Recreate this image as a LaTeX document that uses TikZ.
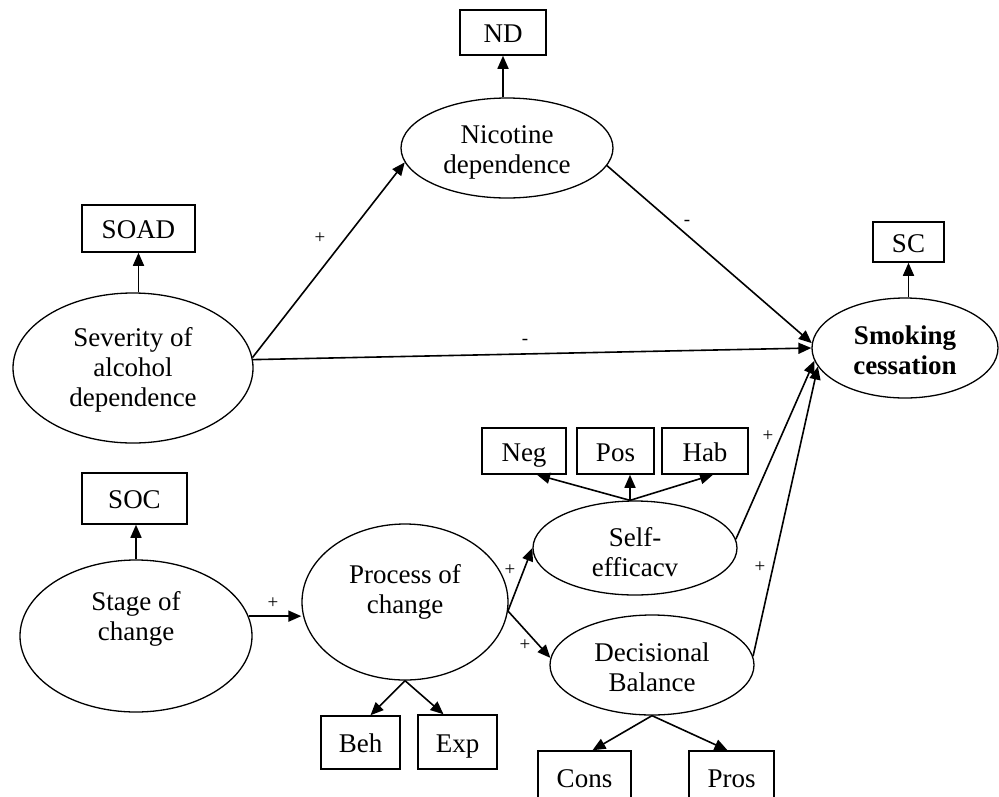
\documentclass[tikz,border=0pt]{standalone}
\usepackage{fontspec}
\setmainfont{Liberation Serif}
\usetikzlibrary{shapes.geometric,arrows.meta}
\begin{document}
\begin{tikzpicture}[x=1pt,y=-1pt,
  every node/.style={font=\fontsize{27}{30}\selectfont},
  latent/.style 2 args={draw, ellipse, line width=1.3pt, inner sep=0pt,
    minimum width=#1, minimum height=#2},
  indicator/.style 2 args={draw, rectangle, line width=1.5pt, inner sep=0pt,
    text height=20pt, text depth=0pt,
    minimum width=#1, minimum height=#2},
  caption/.style={align=center, inner sep=0pt},
  sign/.style={font=\fontsize{19}{19}\selectfont, inner sep=0pt},
  link/.style={line width=1.6pt, -{Triangle[length=13pt,width=11pt]}},
]
\useasboundingbox (0,0) rectangle (999,796);
\clip (0,0) rectangle (999,796);

% latent constructs
\node[latent={212pt}{100pt}] (nic)   at (507,148) {};
\node[latent={240pt}{150pt}] (sev)   at (133,368) {};
\node[latent={186pt}{100pt}] (smk)   at (905,348) {};
\node[latent={204pt}{94pt}]  (self)  at (635,548) {};
\node[latent={206pt}{156pt}] (proc)  at (405,602) {};
\node[latent={232pt}{152pt}] (stage) at (136,636) {};
\node[latent={204pt}{100pt}] (dec)   at (652,665) {};

\node[caption] (nicT)   at (507,152) {Nicotine\\dependence};
\node[caption] (sevT)   at (133,370) {Severity of\\alcohol\\dependence};
\node[caption, font=\fontsize{27}{30}\selectfont\bfseries] (smkT) at (905,350) {Smoking\\cessation};
\node[caption] (selfT)  at (635,552) {Self-\\efficacv};
\node[caption] (procT)  at (405,592) {Process of\\change};
\node[caption] (stageT) at (136,619) {Stage of\\change};
\node[caption] (decT)   at (652,667) {Decisional\\Balance};

% observed indicators
\node[indicator={86pt}{45pt}]  (ND)   at (503,32.5)  {ND};
\node[indicator={113pt}{47pt}] (SOAD) at (138.5,228.5) {SOAD};
\node[indicator={71pt}{40pt}]  (SC)   at (908.5,242) {SC};
\node[indicator={84pt}{46pt}]  (Neg)  at (524,451)   {Neg};
\node[indicator={77pt}{46pt}]  (Pos)  at (615.5,451) {Pos};
\node[indicator={86pt}{46pt}]  (Hab)  at (705,451)   {Hab};
\node[indicator={105pt}{51pt}] (SOC)  at (134.5,498.5) {SOC};
\node[indicator={79pt}{53pt}]  (Beh)  at (360.5,742.5) {Beh};
\node[indicator={79pt}{54pt}]  (Exp)  at (457.5,742) {Exp};
\node[indicator={93pt}{52pt}]  (Cons) at (584.5,777) {Cons};
\node[indicator={85pt}{52pt}]  (Pros) at (731.5,777) {Pros};

% measurement arrows
\draw[link] (ND.south |- nic.north) -- (ND.south);
\draw[link] (SOAD.south |- sev.north) -- (SOAD.south);
\draw[link] (SC.south |- smk.north) -- (SC.south);
\draw[link] (stage.north) -- (stage.north |- SOC.south);
\coordinate (seTop) at ([xshift=-5pt]self.north);
\draw[link] (seTop) -- ([xshift=13pt]Neg.south);
\draw[link] (seTop) -- (seTop |- Pos.south);
\draw[link] (seTop) -- ([xshift=8pt]Hab.south);
\draw[link] (proc.south) -- ([xshift=10pt]Beh.north);
\draw[link] (proc.south) -- ([xshift=-14pt]Exp.north);
\draw[link] (dec.south) -- ([xshift=8pt]Cons.north);
\draw[link] (dec.south) -- ([xshift=-4pt]Pros.north);

% structural paths
\draw[link] (sev.5) -- (nic.188);
\draw[link] (sev.4) -- (smk.west);
\draw[link] (nic.-10) -- (smk.177);
\draw[link] (stage.10) -- (stage.10 -| proc.west);
\draw[link] (proc.-5) -- (self.west);
\draw[link] (proc.-5) -- (dec.176);
\draw[link] (self.5) -- (smk.188);
\draw[link] (dec.5) -- (smk.192);

% path signs
\node[sign] (s1) at (320,238) {+};
\node[sign] (s2) at (525,342) {-};
\node[sign] (s3) at (687,223) {-};
\node[sign] (s4) at (273,603) {+};
\node[sign] (s5) at (510,570) {+};
\node[sign] (s6) at (525,645) {+};
\node[sign] (s7) at (768,436) {+};
\node[sign] (s8) at (760,567) {+};
\end{tikzpicture}
\end{document}
